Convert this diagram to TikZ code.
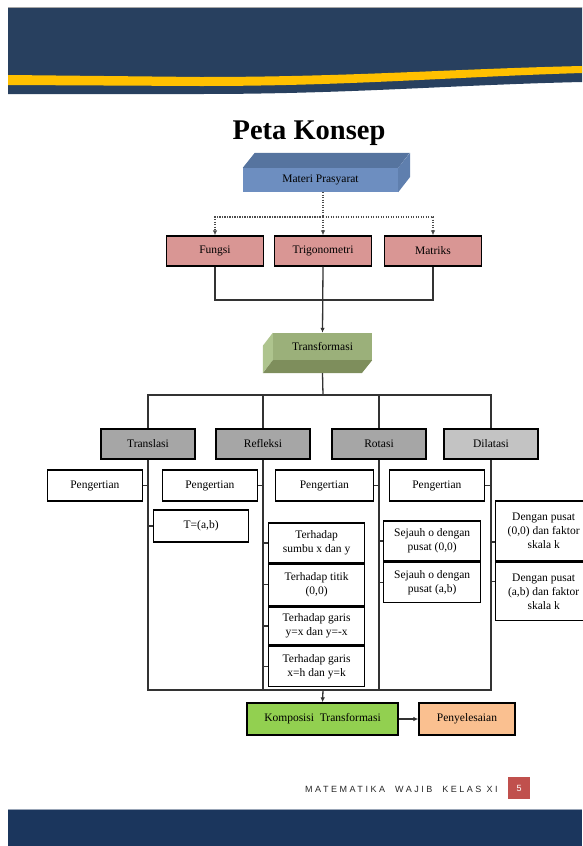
\documentclass[tikz,border=0pt]{standalone}
\usepackage{fontspec}
\setmainfont{Liberation Serif}
\newfontfamily\footfont[LetterSpace=28]{Liberation Sans}
\newfontfamily\numfont{Liberation Sans}
\usetikzlibrary{positioning}
\usetikzlibrary{arrows.meta}

\definecolor{navytop}{HTML}{28405F}
\definecolor{navybot}{HTML}{1B365D}
\definecolor{wave}{HTML}{FFC000}
\definecolor{prasfront}{HTML}{6D8EC0}
\definecolor{prastop}{HTML}{56749F}
\definecolor{prasside}{HTML}{5F7FAE}
\definecolor{pinkfill}{HTML}{D99694}
\definecolor{trfront}{HTML}{9BB07A}
\definecolor{trleft}{HTML}{AEC48E}
\definecolor{trbottom}{HTML}{7E8E5C}
\definecolor{catdark}{HTML}{A6A6A6}
\definecolor{catlight}{HTML}{C3C3C3}
\definecolor{kompgreen}{HTML}{92D050}
\definecolor{peach}{HTML}{FAC090}
\definecolor{pagered}{HTML}{C0504D}

\tikzset{
  lbl/.style={font=\fontsize{11.5}{14}\selectfont, align=center, inner sep=1pt},
  box/.style={lbl, draw=black, line width=1.3pt, minimum width=95, minimum height=31},
  prasbox/.style={box, fill=pinkfill, minimum width=97, minimum height=30},
  catbox/.style={box, fill=catdark, minimum width=94, minimum height=30},
  leaf/.style={box, fill=white},
  link/.style={draw=black!80, line width=1.3pt},
  dotlink/.style={draw=black!70, line width=1.2pt, dash pattern=on 1.2pt off 1.3pt},
  tip/.style={-{Latex[length=5pt,width=4.5pt]}},
}

\begin{document}
\begin{tikzpicture}[x=1pt,y=-1pt]
 \useasboundingbox (0,0) rectangle (582,846);
 \fill[navytop] (8,7) -- (582,7) -- (582,82) .. controls (450,85) and (350,94) .. (200,94) -- (8,94) -- cycle;
 \fill[wave] (8,75) -- (200,77) .. controls (350,77) and (450,69) .. (582,66) -- (582,73) .. controls (450,77) and (350,86) .. (200,86) -- (8,85) -- cycle;
 \draw[gray!70,line width=0.8pt] (8,7) -- (582,7);
 \fill[navybot] (8,809) rectangle (582,846);
 \draw[navybot!45,line width=0.8pt] (8,809) -- (582,809);

 \node[font=\fontsize{28.5}{30}\selectfont\bfseries,anchor=base] (title) at (309,139) {Peta Konsep};

 \node[lbl,fill=prasfront,minimum width=155,minimum height=24] (materi) at (320.5,180) {Materi Prasyarat};
 \fill[prastop] (materi.north west) -- ++(12,-15) -- ++(155,0) -- (materi.north east) -- cycle;
 \fill[prasside] (materi.north east) -- ++(12,-15) -- ++(0,24) -- (materi.south east) -- cycle;

 \node[prasbox] (fungsi) at (215,251) {Fungsi};
 \node[prasbox] (trigo) at (323,251) {Trigonometri};
 \node[prasbox] (matriks) at (433,251) {Matriks};

 \coordinate (dotbar) at (323,217);
 \draw[dotlink] (materi.south -| dotbar) -- (dotbar);
 \draw[dotlink,tip] (dotbar) -| (fungsi.north);
 \draw[dotlink,tip] (dotbar) -| (matriks.north);
 \draw[dotlink,tip] (dotbar) -- (trigo.north);

 \node[lbl,fill=trfront,minimum width=99,minimum height=27] (transf) at (322.5,346.5) {Transformasi};
 \fill[trleft] (transf.north west) -- ++(-10,13) -- ++(0,27) -- (transf.south west) -- cycle;
 \fill[trbottom] (transf.south west) -- ++(-10,13) -- ++(99,0) -- (transf.south east) -- cycle;

 \coordinate (mergebar) at (323,300);
 \draw[link] (fungsi.south) |- (mergebar) -| (matriks.south);
 \draw[link,tip] (trigo.south) -- (transf.north);

 \node[catbox] (translasi) at (148,444) {Translasi};
 \node[catbox] (refleksi) at (263,444) {Refleksi};
 \node[catbox] (rotasi) at (379,444) {Rotasi};
 \node[catbox,fill=catlight] (dilatasi) at (491,444) {Dilatasi};

 \coordinate (catbar) at (323,395);
 \draw[link] (transf.south) ++(0,13) -- (catbar);
 \draw[link] (translasi.north) |- (catbar) -| (dilatasi.north);
 \draw[link] (refleksi.north) -- (refleksi.north |- catbar);
 \draw[link] (rotasi.north) -- (rotasi.north |- catbar);

 \node[leaf,anchor=east] (tdef) at (143,485.5) {Pengertian};
 \node[leaf,anchor=east] (fdef) at (258,485.5) {Pengertian};
 \node[leaf,anchor=east,minimum width=98] (rdef) at (374,485.5) {Pengertian};
 \node[leaf,anchor=east] (ddef) at (485,485.5) {Pengertian};

 \node[leaf,anchor=west,minimum height=32] (tab) at (153,526) {T=(a,b)};
 \node[leaf,anchor=west,minimum width=96,minimum height=40] (fx) at (268,543) {Terhadap\\sumbu x dan y};
 \node[leaf,below=0pt of fx,minimum width=96,minimum height=41] (fo) {Terhadap titik\\(0,0)};
 \node[leaf,anchor=west,minimum width=96,minimum height=38] (fg) at (268,626) {Terhadap garis\\y=x dan y=-x};
 \node[leaf,below=0pt of fg,minimum width=96,minimum height=40] (fh) {Terhadap garis\\x=h dan y=k};
 \node[leaf,anchor=west,minimum width=97,minimum height=40] (ro) at (383,541) {Sejauh o dengan\\pusat (0,0)};
 \node[leaf,below=0pt of ro,minimum width=97,minimum height=40] (rab) {Sejauh o dengan\\pusat (a,b)};
 \node[leaf,anchor=west,minimum width=96,minimum height=60] (do) at (495,531) {Dengan pusat\\(0,0) dan faktor\\skala k};
 \node[leaf,below=0pt of do,minimum width=96,minimum height=58] (dab) {Dengan pusat\\(a,b) dan faktor\\skala k};

 \foreach \d/\c in {tdef/translasi,fdef/refleksi,rdef/rotasi,ddef/dilatasi}
  \draw[link] (\d.east) -- (\d.east -| \c.south);
 \foreach \l/\c in {tab/translasi,fx/refleksi,fo/refleksi,fg/refleksi,fh/refleksi,ro/rotasi,rab/rotasi}
  \draw[link] (\l.west) -- (\l.west -| \c.south);
 \draw[link] ([yshift=-11pt]do.west) -- ([yshift=-11pt]do.west -| dilatasi.south);
 \draw[link] ([yshift=10pt]dab.west) -- ([yshift=10pt]dab.west -| dilatasi.south);

 \node[box,fill=kompgreen,minimum width=151,minimum height=32] (komposisi) at (322.5,719) {Komposisi\enspace Transformasi};
 \node[box,fill=peach,minimum width=96,minimum height=32] (penyelesaian) at (467,719) {Penyelesaian};

 \coordinate (basebar) at (323,690);
 \draw[link] (translasi.south) |- (basebar) -| (dilatasi.south);
 \draw[link] (refleksi.south) -- (refleksi.south |- basebar);
 \draw[link] (rotasi.south) -- (rotasi.south |- basebar);
 \draw[link,tip] (basebar) -- (komposisi.north);
 \draw[link,tip] (komposisi) -- (penyelesaian);

 \node[font=\footfont\fontsize{9}{10}\selectfont,text=black!85,anchor=base west,inner sep=0] (footer) at (305,792) {MATEMATIKA\ \ WAJIB\ \ KELAS XI};
 \node[fill=pagered,minimum size=22,inner sep=0,text=white,font=\numfont\fontsize{9}{10}\selectfont] (pagenum) at (519,788) {5};
\end{tikzpicture}
\end{document}
